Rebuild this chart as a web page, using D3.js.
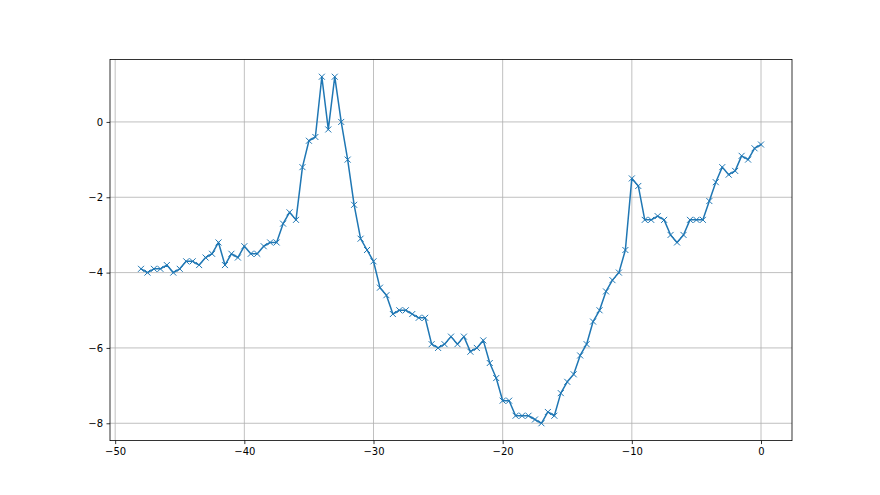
<!DOCTYPE html>
<html>
<head>
<meta charset="utf-8">
<script src="https://cdn.jsdelivr.net/npm/d3@7"></script>
<style>
  html, body { margin: 0; padding: 0; background: #fff; }
  svg { display: block; }
  text { font-family: "DejaVu Sans", sans-serif; }
</style>
</head>
<body>
<svg id="chart" width="880" height="495"></svg>
<script>
const xValues = [
  -48, -47.5, -47, -46.5, -46, -45.5, -45, -44.5, -44, -43.5,
  -43, -42.5, -42, -41.5, -41, -40.5, -40, -39.5, -39, -38.5,
  -38, -37.5, -37, -36.5, -36, -35.5, -35, -34.5, -34, -33.5,
  -33, -32.5, -32, -31.5, -31, -30.5, -30, -29.5, -29, -28.5,
  -28, -27.5, -27, -26.5, -26, -25.5, -25, -24.5, -24, -23.5,
  -23, -22.5, -22, -21.5, -21, -20.5, -20, -19.5, -19, -18.5,
  -18, -17.5, -17, -16.5, -16, -15.5, -15, -14.5, -14, -13.5,
  -13, -12.5, -12, -11.5, -11, -10.5, -10, -9.5, -9, -8.5,
  -8, -7.5, -7, -6.5, -6, -5.5, -5, -4.5, -4, -3.5,
  -3, -2.5, -2, -1.5, -1, -0.5, 0
];
const yValues = [
  -3.9, -4.0, -3.9, -3.9, -3.8, -4.0, -3.9, -3.7, -3.7, -3.8,
  -3.6, -3.5, -3.2, -3.8, -3.5, -3.6, -3.3, -3.5, -3.5, -3.3,
  -3.2, -3.2, -2.7, -2.4, -2.6, -1.2, -0.5, -0.4, 1.2, -0.2,
  1.2, 0.0, -1.0, -2.2, -3.1, -3.4, -3.7, -4.4, -4.6, -5.1,
  -5.0, -5.0, -5.1, -5.2, -5.2, -5.9, -6.0, -5.9, -5.7, -5.9,
  -5.7, -6.1, -6.0, -5.8, -6.4, -6.8, -7.4, -7.4, -7.8, -7.8,
  -7.8, -7.9, -8.0, -7.7, -7.8, -7.2, -6.9, -6.7, -6.2, -5.9,
  -5.3, -5.0, -4.5, -4.2, -4.0, -3.4, -1.5, -1.7, -2.6, -2.6,
  -2.5, -2.6, -3.0, -3.2, -3.0, -2.6, -2.6, -2.6, -2.1, -1.6,
  -1.2, -1.4, -1.3, -0.9, -1.0, -0.7, -0.6
];
const xTicks = [-50, -40, -30, -20, -10, 0];
const yTicks = [-8, -6, -4, -2, 0];

(function () {
const plotLeft = 110, plotRight = 792, plotTop = 59.4, plotBottom = 440.6;

const svg = d3.select("#chart");

const xMin = d3.min(xValues), xMax = d3.max(xValues);
const yMin = d3.min(yValues), yMax = d3.max(yValues);
const xPad = (xMax - xMin) * 0.05, yPad = (yMax - yMin) * 0.05;

const x = d3.scaleLinear().domain([xMin - xPad, xMax + xPad]).range([plotLeft, plotRight]);
const y = d3.scaleLinear().domain([yMin - yPad, yMax + yPad]).range([plotBottom, plotTop]);

const data = xValues.map((v, i) => ({x: v, y: yValues[i]}));
const fmt = d3.format("d");

// grid
const grid = svg.append("g");
grid.selectAll("line.gx").data(xTicks).join("line").attr("class", "gx")
  .attr("x1", d => x(d)).attr("x2", d => x(d))
  .attr("y1", plotTop).attr("y2", plotBottom)
  .attr("stroke", "#b0b0b0").attr("stroke-width", 0.8);
grid.selectAll("line.gy").data(yTicks).join("line").attr("class", "gy")
  .attr("y1", d => y(d)).attr("y2", d => y(d))
  .attr("x1", plotLeft).attr("x2", plotRight)
  .attr("stroke", "#b0b0b0").attr("stroke-width", 0.8);

// axes
const xAxis = d3.axisBottom(x).tickValues(xTicks).tickFormat(fmt).tickSizeInner(3.5).tickSizeOuter(0).tickPadding(3.5);
const yAxis = d3.axisLeft(y).tickValues(yTicks).tickFormat(fmt).tickSizeInner(3.5).tickSizeOuter(0).tickPadding(3.5);

const gx = svg.append("g").attr("transform", `translate(0,${plotBottom})`).call(xAxis);
const gy = svg.append("g").attr("transform", `translate(${plotLeft},0)`).call(yAxis);
[gx, gy].forEach(g => {
  g.select(".domain").remove();
  g.selectAll(".tick line").attr("stroke", "#000").attr("stroke-width", 0.8);
  g.selectAll(".tick text").attr("fill", "#000").style("font-size", "10px")
    .style("font-family", "'DejaVu Sans', sans-serif");
});

// line
const line = d3.line().x(d => x(d.x)).y(d => y(d.y));
svg.append("path").datum(data)
  .attr("d", line).attr("fill", "none")
  .attr("stroke", "#1f77b4").attr("stroke-width", 1.5)
  .attr("stroke-linejoin", "round").attr("stroke-linecap", "square");

// markers 'x'
const ms = 3;
const mk = svg.append("g");
mk.selectAll("path").data(data).join("path")
  .attr("d", d => {
    const cx = x(d.x), cy = y(d.y);
    return `M${cx-ms},${cy-ms}L${cx+ms},${cy+ms}M${cx-ms},${cy+ms}L${cx+ms},${cy-ms}`;
  })
  .attr("stroke", "#1f77b4").attr("stroke-width", 1).attr("fill", "none");

// spines
svg.append("rect").attr("x", plotLeft).attr("y", plotTop)
  .attr("width", plotRight - plotLeft).attr("height", plotBottom - plotTop)
  .attr("fill", "none").attr("stroke", "#000").attr("stroke-width", 0.8);
})();
</script>
</body>
</html>
